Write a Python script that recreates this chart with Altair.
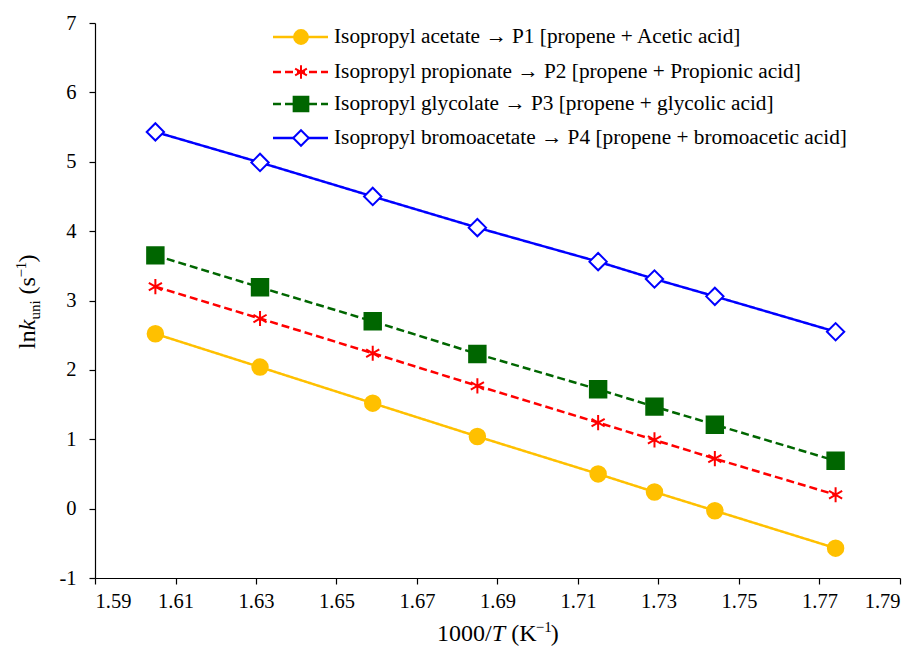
import altair as alt
import pandas as pd

# ---- data ----
x_vals = [1.605, 1.631, 1.659, 1.685, 1.715, 1.729, 1.744, 1.774]
p1 = [2.52, 2.04, 1.52, 1.04, 0.50, 0.24, -0.03, -0.57]
p2 = [3.20, 2.74, 2.24, 1.77, 1.24, 0.99, 0.72, 0.20]
p3 = [3.65, 3.19, 2.70, 2.23, 1.72, 1.47, 1.21, 0.69]
p4 = [5.43, 4.99, 4.50, 4.05, 3.56, 3.31, 3.06, 2.55]
labels = [
    "Isopropyl acetate \u2192 P1 [propene + Acetic acid]",
    "Isopropyl propionate \u2192 P2 [propene + Propionic acid]",
    "Isopropyl glycolate \u2192 P3 [propene + glycolic acid]",
    "Isopropyl bromoacetate \u2192 P4 [propene + bromoacetic acid]",
]
x_ticks = [1.59, 1.61, 1.63, 1.65, 1.67, 1.69, 1.71, 1.73, 1.75, 1.77, 1.79]
y_ticks = [-1, 0, 1, 2, 3, 4, 5, 6, 7]

FONT = "Liberation Serif"
W, H = 805, 555

ASTERISK = "M0,-1L0,1M-0.866,-0.5L0.866,0.5M-0.866,0.5L0.866,-0.5"

styles = [
    dict(color="#FFC000", dash=[1, 0], shape="circle", filled=True, size=240, fill="#FFC000", sw=2),
    dict(color="#FF0000", dash=[8, 4], shape=ASTERISK, filled=False, size=230, fill="none", sw=2),
    dict(color="#006600", dash=[8, 4], shape="square", filled=True, size=270, fill="#006600", sw=2),
    dict(color="#0000FF", dash=[1, 0], shape="diamond", filled=True, size=300, fill="#FFFFFF", sw=2),
]
series_vals = [p1, p2, p3, p4]

xscale = alt.Scale(domain=[1.59, 1.79], nice=False, zero=False)
yscale = alt.Scale(domain=[-1, 7], nice=False, zero=False)

x_axis = alt.Axis(values=x_ticks, format=".2f", title=None, grid=False,
                  tickSize=6, labelPadding=7, domainColor="black",
                  tickColor="black", labelColor="black",
                  labelFont=FONT, labelFontSize=20.5)
y_axis = alt.Axis(values=y_ticks, labelExpr="toString(datum.value)", title=None,
                  grid=False, tickSize=6, labelPadding=13, domainColor="black",
                  tickColor="black", labelColor="black",
                  labelFont=FONT, labelFontSize=20.5)

layers = []
for vals, st in zip(series_vals, styles):
    df = pd.DataFrame({"x": x_vals, "y": vals})
    base = alt.Chart(df)
    xenc = alt.X("x:Q", scale=xscale, axis=x_axis)
    yenc = alt.Y("y:Q", scale=yscale, axis=y_axis)
    line = base.mark_line(color=st["color"], strokeWidth=2.5, strokeDash=st["dash"]).encode(x=xenc, y=yenc)
    pts = base.mark_point(shape=st["shape"], size=st["size"], filled=st["filled"],
                          fill=st["fill"], stroke=st["color"], strokeWidth=st["sw"],
                          opacity=1).encode(x=xenc, y=yenc)
    layers += [line, pts]

# ---- legend (manual) ----
one = pd.DataFrame({"a": [0]})
leg_rows = [14, 49, 81, 115]
for lab, st, ry in zip(labels, styles, leg_rows):
    layers.append(alt.Chart(one).mark_rule(color=st["color"], strokeWidth=2.5, strokeDash=st["dash"])
                  .encode(x=alt.value(178), x2=alt.value(233), y=alt.value(ry)))
    layers.append(alt.Chart(one).mark_point(shape=st["shape"], size=st["size"] * 0.8, filled=st["filled"],
                                            fill=st["fill"], stroke=st["color"], strokeWidth=st["sw"], opacity=1)
                  .encode(x=alt.value(206), y=alt.value(ry)))
    layers.append(alt.Chart(pd.DataFrame({"t": [lab]})).mark_text(
        align="left", baseline="middle", font=FONT, fontSize=21.3, color="black")
        .encode(x=alt.value(239), y=alt.value(ry), text="t:N"))

# ---- axis titles built from pieces (italic, sub/superscript) ----
def piece(txt, x, y, size=24, style="normal", angle=0, align="left"):
    return alt.Chart(pd.DataFrame({"t": [txt]})).mark_text(
        align=align, baseline="alphabetic", font=FONT, fontSize=size, fontStyle=style,
        angle=angle, color="black").encode(x=alt.value(x), y=alt.value(y), text="t:N")

# x title: 1000/T (K^-1)
bx, by = 342, 618
xparts = [("1000/", 24, "normal", 0, 54.7), ("T", 24, "italic", 0, 19.5),
          ("(K", 24, "normal", 0, 24.5), ("\u22121", 15, "normal", -9, 15.0), (")", 24, "normal", 0, 8)]
cx = bx
for txt, sz, stl, dy, w in xparts:
    layers.append(piece(txt, cx, by + dy, sz, stl))
    cx += w

# y title: ln k_uni (s^-1), rotated
ty0, tx = 326, -60
yparts = [("ln", 24, "normal", 0, 18.7), ("k", 24, "italic", 0, 10.7),
          ("uni", 15, "normal", 5, 25.0), ("(s", 24, "normal", 0, 17.0),
          ("\u22121", 15, "normal", -9, 15.0), (")", 24, "normal", 0, 8)]
cy = ty0
for txt, sz, stl, dx, w in yparts:
    layers.append(piece(txt, tx + dx, cy, sz, stl, angle=270))
    cy -= w

chart = alt.layer(*layers).properties(
    width=W, height=H,
    autosize=alt.AutoSizeParams(type="none"),
    padding={"left": 87, "top": 15, "right": 12, "bottom": 70},
).configure_view(stroke=None).configure_axis(domainWidth=1.2, tickWidth=1.2)

chart.save("out.html", embed_options={"renderer": "svg", "actions": False})
